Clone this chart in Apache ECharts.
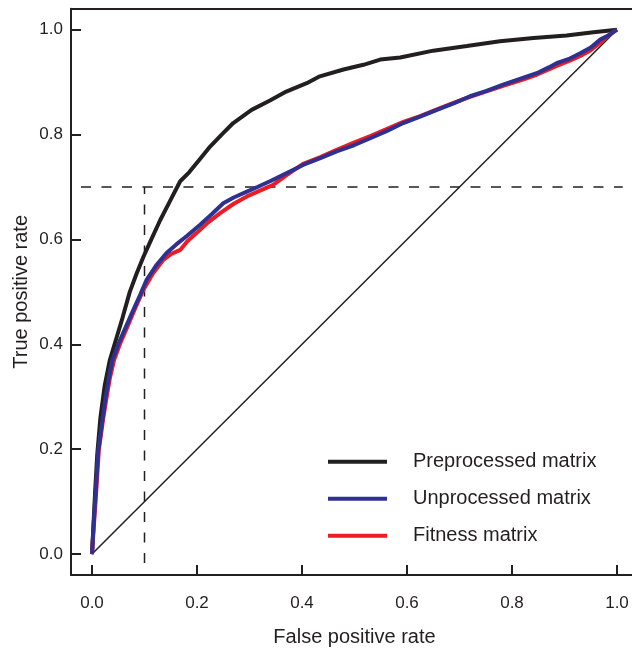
<!DOCTYPE html>
<html>
<head>
<meta charset="utf-8">
<script src="https://cdn.jsdelivr.net/npm/echarts@6/dist/echarts.min.js"></script>
<style>
  html, body { margin: 0; padding: 0; background: #fff; }
  #chart { width: 632px; height: 649px; }
</style>
</head>
<body>
<div id="chart"></div>
<script>
// ROC curves: [false positive rate, true positive rate]
const preprocessed = [
  [0, 0], [0.003, 0.06], [0.006, 0.12], [0.010, 0.19], [0.016, 0.26], [0.024, 0.32],
  [0.034, 0.37], [0.046, 0.41], [0.058, 0.45], [0.072, 0.50], [0.085, 0.535],
  [0.098, 0.567], [0.113, 0.60], [0.130, 0.637], [0.148, 0.672], [0.168, 0.711],
  [0.185, 0.728], [0.203, 0.750], [0.225, 0.777], [0.247, 0.800], [0.269, 0.822],
  [0.304, 0.847], [0.339, 0.865], [0.370, 0.882], [0.409, 0.898], [0.434, 0.911],
  [0.479, 0.924], [0.517, 0.933], [0.549, 0.943], [0.587, 0.947], [0.650, 0.960],
  [0.714, 0.969], [0.777, 0.978], [0.841, 0.984], [0.904, 0.989], [0.955, 0.995], [1, 1]
];
const unprocessed = [
  [0, 0], [0.0025, 0.046], [0.006, 0.103], [0.012, 0.198], [0.020, 0.256], [0.026, 0.30],
  [0.032, 0.335], [0.039, 0.370], [0.050, 0.40], [0.063, 0.43], [0.079, 0.466],
  [0.092, 0.495], [0.104, 0.523], [0.122, 0.55], [0.142, 0.574], [0.160, 0.59],
  [0.180, 0.606], [0.206, 0.628], [0.228, 0.648], [0.250, 0.669], [0.270, 0.680],
  [0.295, 0.691], [0.315, 0.700], [0.339, 0.711], [0.370, 0.726], [0.402, 0.742],
  [0.435, 0.755], [0.466, 0.768], [0.500, 0.780], [0.530, 0.793], [0.560, 0.806],
  [0.593, 0.822], [0.625, 0.834], [0.657, 0.847], [0.690, 0.860], [0.720, 0.873],
  [0.750, 0.883], [0.783, 0.895], [0.815, 0.906], [0.847, 0.917], [0.870, 0.928],
  [0.885, 0.936], [0.910, 0.945], [0.930, 0.955], [0.950, 0.966], [0.968, 0.981],
  [0.985, 0.99], [1, 1]
];
const fitness = [
  [0, 0], [0.003, 0.046], [0.007, 0.103], [0.013, 0.198], [0.021, 0.256], [0.028, 0.30],
  [0.034, 0.335], [0.042, 0.370], [0.053, 0.40], [0.066, 0.43], [0.081, 0.466],
  [0.098, 0.504], [0.116, 0.535], [0.136, 0.561], [0.150, 0.572], [0.168, 0.580],
  [0.182, 0.597], [0.199, 0.612], [0.222, 0.633], [0.244, 0.650], [0.270, 0.668],
  [0.295, 0.682], [0.320, 0.693], [0.345, 0.704], [0.370, 0.722], [0.402, 0.744],
  [0.435, 0.757], [0.466, 0.771], [0.500, 0.785], [0.530, 0.797], [0.560, 0.810],
  [0.593, 0.824], [0.625, 0.835], [0.657, 0.848], [0.690, 0.861], [0.720, 0.872],
  [0.750, 0.882], [0.783, 0.893], [0.815, 0.903], [0.847, 0.914], [0.870, 0.924],
  [0.885, 0.931], [0.910, 0.941], [0.930, 0.950], [0.950, 0.961], [0.968, 0.975],
  [0.985, 0.99], [1, 1]
];

// Chance diagonal and the 10% FPR / 70% TPR guide lines
const chanceLine = [[0, 0], [1, 1]];
const guideHorizontal = [[-0.021, 0.7], [1.011, 0.7]];
const guideVertical = [[0.1, -0.017], [0.1, 0.7]];

const tickValues = [0, 0.2, 0.4, 0.6, 0.8, 1.0];
const seriesNames = ['Preprocessed matrix', 'Unprocessed matrix', 'Fitness matrix'];

const ink = '#231f20';
const font = 'Liberation Sans, Arial, Helvetica, sans-serif';

const chart = echarts.init(document.getElementById('chart'), null, { renderer: 'canvas' });

const frameAxis = {
  type: 'value',
  min: -0.04,
  max: 1.04,
  axisLine: { show: true, onZero: false, lineStyle: { color: ink, width: 2 } },
  splitLine: { show: false },
  axisTick: {
    show: true, inside: true, length: 10,
    customValues: tickValues,
    lineStyle: { color: ink, width: 2 }
  },
  axisLabel: {
    show: true,
    customValues: tickValues,
    formatter: v => v.toFixed(1),
    color: ink, fontFamily: font, fontSize: 17
  },
  nameLocation: 'middle',
  nameMoveOverlap: false,
  nameTextStyle: { color: ink, fontFamily: font, fontSize: 20 }
};

const option = {
  animation: false,
  backgroundColor: '#fff',
  grid: { left: 71, top: 8.7, width: 567, height: 566.3, outerBoundsMode: 'none' },
  xAxis: [
    Object.assign({}, frameAxis, {
      position: 'bottom',
      name: 'False positive rate',
      nameGap: 52,
      axisLabel: Object.assign({}, frameAxis.axisLabel, { margin: 20 })
    }),
    {
      type: 'value', position: 'top', min: -0.04, max: 1.04,
      axisLine: { show: true, onZero: false, lineStyle: { color: ink, width: 2 } },
      axisTick: { show: false }, axisLabel: { show: false }, splitLine: { show: false }
    }
  ],
  yAxis: [
    Object.assign({}, frameAxis, {
      position: 'left',
      name: 'True positive rate',
      nameGap: 40,
      nameRotate: 90,
      axisLabel: Object.assign({}, frameAxis.axisLabel, { margin: 8 })
    })
  ],
  legend: {
    data: seriesNames,
    orient: 'vertical',
    left: 321,
    top: 446.7,
    itemWidth: 59,
    itemHeight: 20,
    itemGap: 17,
    itemStyle: { opacity: 0 },
    lineStyle: { width: 4 },
    textStyle: { color: ink, fontFamily: font, fontSize: 20, padding: [0, 0, 0, 21] }
  },
  series: [
    {
      type: 'line', data: chanceLine, symbol: 'none', silent: true,
      lineStyle: { color: ink, width: 1.5 }
    },
    {
      type: 'line', data: guideHorizontal, symbol: 'none', silent: true,
      lineStyle: { color: ink, width: 1.5, type: [10, 10.5] }
    },
    {
      type: 'line', data: guideVertical, symbol: 'none', silent: true,
      lineStyle: { color: ink, width: 1.5, type: [10, 10.5] }
    },
    {
      name: seriesNames[0], type: 'line', data: preprocessed, symbol: 'none',
      itemStyle: { color: ink },
      lineStyle: { color: ink, width: 4 }
    },
    {
      name: seriesNames[2], type: 'line', data: fitness, symbol: 'none',
      itemStyle: { color: '#ed1c24' },
      lineStyle: { color: '#ed1c24', width: 4 }
    },
    {
      name: seriesNames[1], type: 'line', data: unprocessed, symbol: 'none',
      itemStyle: { color: '#2e3192' },
      lineStyle: { color: '#2e3192', width: 4 }
    }
  ]
};

chart.setOption(option);
</script>
</body>
</html>
